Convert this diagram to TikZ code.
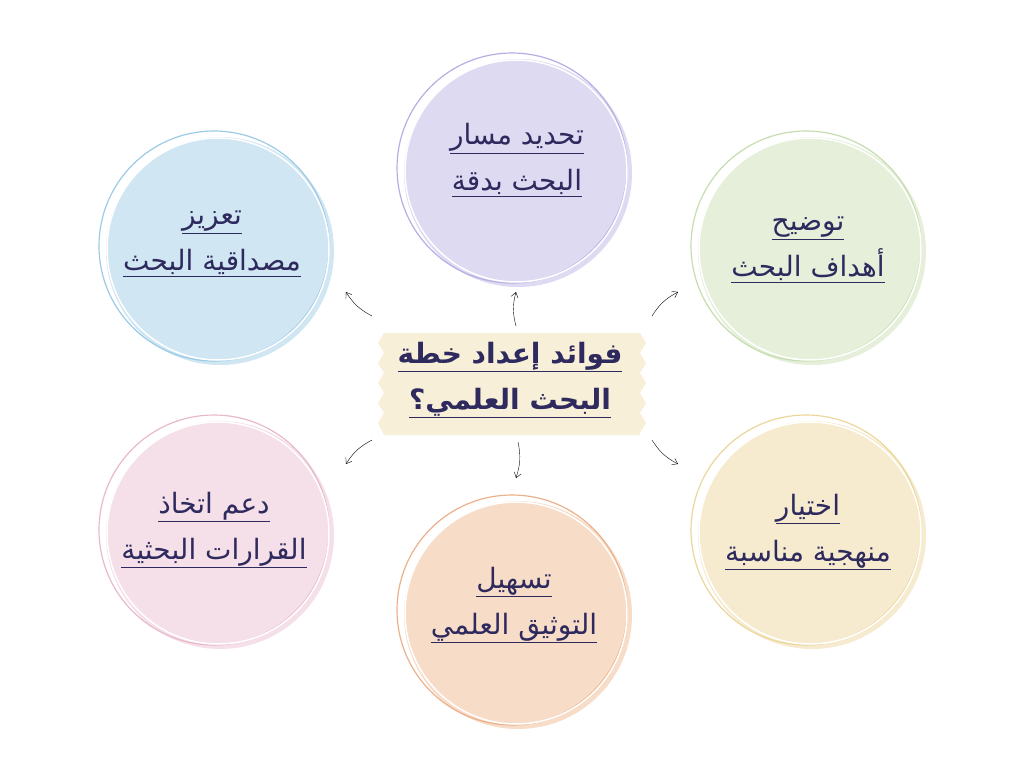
\documentclass[tikz,border=0pt]{standalone}
\usepackage{fontspec}
\newfontfamily\arabicfont[Script=Arabic]{DejaVu Sans}
\TeXXeTstate=1
\usetikzlibrary{arrows.meta}
\definecolor{ink}{HTML}{2E2A5E}
\tikzset{
  lbl/.style={text=ink,font=\arabicfont\fontsize{28}{46}\selectfont,align=center},
  arr/.style={-{Straight Barb[length=5pt,width=7pt]},thin,black},
}
\newcommand{\ar}[1]{\underline{\beginR #1\endR}}
\newcommand{\bubble}[5]{% name, x, y, fill, line
  \fill[#4] (#2+6,#3+5) circle (114);
  \draw[#5,line width=1.2pt] (#2,#3) circle (115);
  \draw[white,line width=1.5pt] (#2+4,#3+3) circle (111);
  \coordinate (#1) at (#2,#3);
}
\begin{document}
\begin{tikzpicture}[x=1pt,y=-1pt]
\useasboundingbox (0,0) rectangle (1024,768);
\fill[white] (0,0) rectangle (1024,768);
\definecolor{f1}{HTML}{D0E6F3}\definecolor{l1}{HTML}{9CCBE6}
\definecolor{f2}{HTML}{DEDAF2}\definecolor{l2}{HTML}{B8AEE4}
\definecolor{f3}{HTML}{E5EFD9}\definecolor{l3}{HTML}{C6DDB0}
\definecolor{f4}{HTML}{F5DFE8}\definecolor{l4}{HTML}{E8B9CC}
\definecolor{f5}{HTML}{F7DCC8}\definecolor{l5}{HTML}{ECB18A}
\definecolor{f6}{HTML}{F6EBCF}\definecolor{l6}{HTML}{EBD79A}
\definecolor{cb}{HTML}{F7EFD8}
\bubble{c1}{214}{246}{f1}{l1}
\bubble{c2}{512}{168}{f2}{l2}
\bubble{c3}{806}{246}{f3}{l3}
\bubble{c4}{214}{530}{f4}{l4}
\bubble{c5}{512}{610}{f5}{l5}
\bubble{c6}{806}{530}{f6}{l6}
\node[lbl] at (212,244) {\ar{تعزيز}\\\ar{مصداقية البحث}};
\node[lbl] at (517,160) {\ar{تحديد مسار}\\\ar{البحث بدقة}};
\node[lbl] at (808,250) {\ar{توضيح}\\\ar{أهداف البحث}};
\node[lbl] at (214,530) {\ar{دعم اتخاذ}\\\ar{القرارات البحثية}};
\node[lbl] at (514,605) {\ar{تسهيل}\\\ar{التوثيق العلمي}};
\node[lbl] at (808,532) {\ar{اختيار}\\\ar{منهجية مناسبة}};
% center box with wavy edges
\fill[cb] (384,333) -- (640,333)
  \foreach \y in {343,363,383,403,423} {-- (646,\y) -- (640,\y+10)}
  -- (640,435) -- (384,435)
  \foreach \y in {423,403,383,363,343} {-- (378,\y) -- (384,\y-10)} -- cycle;
\node[lbl,font=\arabicfont\bfseries\fontsize{28}{46}\selectfont] (ctr) at (510,380) {\ar{فوائد إعداد خطة}\\\ar{البحث العلمي؟}};
\coordinate (a1) at (372,316); \coordinate (b1) at (346,292);
\coordinate (a2) at (516,326); \coordinate (b2) at (516,292);
\coordinate (a3) at (652,316); \coordinate (b3) at (678,292);
\coordinate (a4) at (372,440); \coordinate (b4) at (346,464);
\coordinate (a5) at (518,442); \coordinate (b5) at (516,478);
\coordinate (a6) at (652,440); \coordinate (b6) at (678,464);
\draw[arr] (a1) to[bend left=15] (b1);
\draw[arr] (a2) to[bend left=15] (b2);
\draw[arr] (a3) to[bend left=15] (b3);
\draw[arr] (a4) to[bend right=15] (b4);
\draw[arr] (a5) to[bend left=15] (b5);
\draw[arr] (a6) to[bend right=15] (b6);
\end{tikzpicture}
\end{document}
